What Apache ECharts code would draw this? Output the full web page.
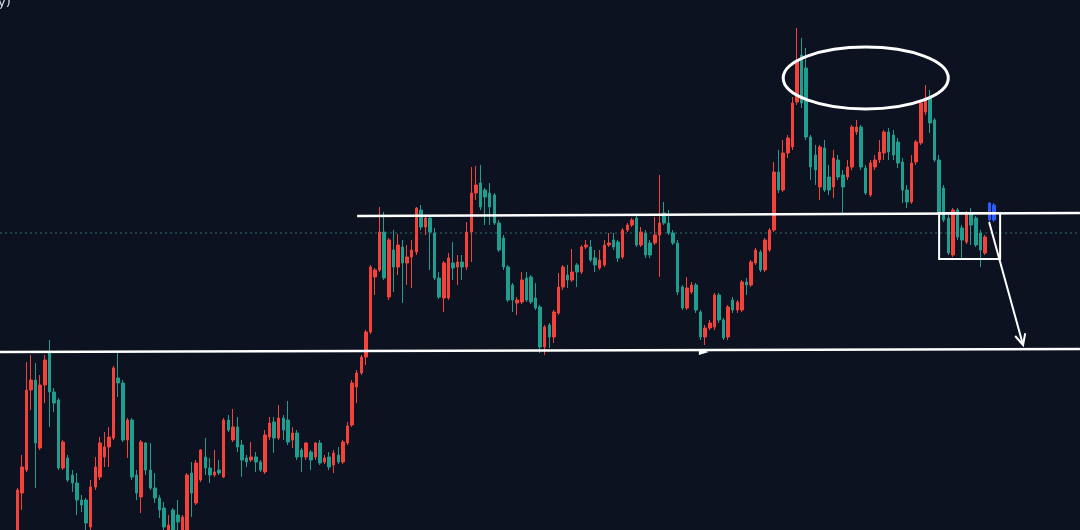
<!DOCTYPE html>
<html><head><meta charset="utf-8">
<script src="https://cdn.jsdelivr.net/npm/echarts@6/dist/echarts.min.js"></script>
<style>html,body{margin:0;padding:0;background:#0c121f;overflow:hidden;}#c{width:1080px;height:530px;}</style>
</head><body><div id="c"></div>
<script>
// OHLC values (arbitrary price units)
const opens = [
0,37,60,140,150,82,145,177,138,130,
62,72,55,47,30,30,3,43,53,73,
83,92,152,147,90,110,55,33,87,60,
42,32,22,0,20,15,0,0,57,27,
50,73,62,55,60,53,110,90,103,85,
72,70,73,68,58,93,108,92,112,110,
90,97,80,73,78,73,87,68,73,65,
75,68,87,105,143,157,173,198,253,260,
298,233,280,263,283,267,273,278,320,303,
312,297,252,232,232,267,263,268,263,298,
337,347,340,337,335,307,292,263,245,227,
228,252,253,232,223,183,205,193,217,243,
255,250,265,258,283,283,272,262,265,285,
290,288,273,300,305,312,285,297,287,287,
295,317,307,297,287,243,222,238,245,218,
193,202,203,235,210,193,230,220,220,248,
245,267,278,260,280,300,358,340,377,383,
428,475,462,393,375,343,382,353,343,370,
355,353,363,398,403,362,335,363,370,377,
398,395,388,368,340,328,368,387,418,432,
410,370,342,312,275,320,302,288,317,312,
297,277,310,310];
const closes = [
40,63,140,150,87,145,170,138,127,62,
88,50,47,30,25,7,43,63,87,83,
93,162,147,90,110,53,37,88,60,42,
32,20,3,5,0,8,13,55,37,67,
80,62,55,58,57,110,100,103,83,70,
68,73,68,60,95,107,92,112,100,88,
97,73,73,87,70,87,67,72,63,77,
68,88,104,147,157,173,198,263,260,298,
252,290,263,285,267,273,280,322,303,312,
298,252,233,267,272,262,268,263,298,337,
345,323,333,323,307,280,263,230,230,230,
250,230,228,222,183,203,193,218,243,263,
250,258,258,283,285,270,265,270,285,287,
283,272,300,305,310,285,298,275,275,295,
307,307,297,287,238,222,242,245,220,193,
202,207,235,210,192,223,220,228,248,245,
268,280,260,290,300,358,340,377,392,427,
470,427,393,363,360,383,340,340,372,353,
343,363,403,403,363,337,367,370,378,398,
378,375,367,340,328,367,388,427,432,407,
370,317,310,277,320,293,290,317,305,285,
280,293,327,325];
const lows = [
-10,20,58,120,42,80,127,103,118,60,
60,48,38,15,18,0,-5,40,50,63,
63,90,133,88,72,50,30,17,55,40,
27,12,0,-5,-5,-5,-5,-5,13,25,
48,55,47,53,55,52,98,88,78,53,
63,68,58,58,56,90,77,90,90,85,
82,70,58,70,60,70,65,66,60,57,
66,66,85,103,127,155,165,196,235,258,
250,230,238,255,227,245,242,275,300,295,
260,250,231,218,230,250,245,250,260,268,
330,320,305,305,305,278,260,228,218,215,
226,228,226,220,177,175,182,187,215,240,
242,248,243,256,281,268,258,260,263,283,
280,268,271,298,303,283,283,272,272,285,
253,305,295,285,235,220,220,236,217,190,
185,200,200,207,190,190,217,217,218,235,
243,265,258,258,278,298,337,338,372,380,
425,422,390,350,345,330,338,335,332,350,
317,350,360,395,360,335,333,360,367,370,
370,370,362,327,322,326,365,385,415,397,
368,315,308,275,273,290,272,286,285,283,
263,275,308,308];
const highs = [
42,75,168,175,167,155,175,190,142,132,
90,75,60,57,35,32,50,73,93,98,
103,164,177,150,112,112,60,90,88,87,
57,35,28,15,22,30,15,57,68,70,
81,92,72,80,70,112,115,121,113,90,
75,88,78,70,100,113,113,125,115,129,
103,100,82,88,80,88,90,75,78,80,
83,90,108,150,160,175,200,265,262,323,
318,292,300,296,290,285,290,323,325,315,
315,302,258,269,277,288,275,275,308,363,
364,365,342,347,337,310,295,265,247,233,
258,258,255,247,225,205,207,220,257,265,
265,281,267,285,290,290,280,280,290,297,
297,290,302,307,312,315,303,300,290,313,
355,328,320,300,290,245,253,248,247,220,
205,210,237,237,212,225,233,230,250,252,
270,282,280,292,302,368,380,390,395,433,
502,492,482,395,385,385,390,365,380,375,
360,370,405,410,405,365,370,375,390,400,
402,400,392,372,345,375,390,430,445,440,
412,375,345,315,322,322,305,319,322,314,
300,295,328,327];
const highlightedBars = [212, 213];
const totalSlots = 232;
const categories = Array.from({length: totalSlots}, (_, i) => 'Bar ' + (i + 1));
// annotation anchors in data units: [bar index, price]
const resistanceLine = [[74.1, 314], [231.7, 317]];
const supportLine = [[-3.8, 178], [231.7, 181]];
const supportMarker = [149.7, 178];
const lastPriceLevel = 297;
const topEllipse = { center: [185, 452], rx: 18, ry: 31 };
const boxZone = [[201, 317], [214.3, 271]];
const arrowPath = [[211.9, 308], [219.3, 185]];
const cornerText = 'y)';

const UP = '#f4423a', DOWN = '#1f9e8f', BLUE = '#2f5cff';
const data = opens.map((o, i) => {
  const v = [o, closes[i], lows[i], highs[i]];
  if (highlightedBars.includes(i)) {
    return { value: v, itemStyle: { color: BLUE, color0: BLUE, borderColor: BLUE, borderColor0: BLUE } };
  }
  return v;
});

const chart = echarts.init(document.getElementById('c'), null, { renderer: 'canvas' });
chart.setOption({
  backgroundColor: '#0c121f',
  animation: false,
  grid: { left: 15, right: 1, top: 0, bottom: 0 },
  xAxis: { type: 'category', data: categories, boundaryGap: true, show: false },
  yAxis: { type: 'value', min: 0, max: 530, show: false, splitLine: { show: false } },
  series: [{
    type: 'candlestick',
    data: data,
    barWidth: 3,
    clip: true,
    itemStyle: { color: UP, color0: DOWN, borderColor: UP, borderColor0: DOWN, borderWidth: 1 }
  }]
});

const xa = chart.convertToPixel({ gridIndex: 0 }, [0, 0]);
const xb = chart.convertToPixel({ gridIndex: 0 }, [totalSlots - 1, 0]);
const px = idx => xa[0] + (xb[0] - xa[0]) * idx / (totalSlots - 1);
const py = p => chart.convertToPixel({ yAxisIndex: 0 }, p);
const W = '#ffffff';

const g = [];
g.push({ type: 'line', z: 1, shape: { x1: 0, y1: py(lastPriceLevel), x2: 1080, y2: py(lastPriceLevel) },
  style: { stroke: '#2f716e', lineWidth: 1, lineDash: [2, 3] } });
[resistanceLine, supportLine].forEach(l => g.push({ type: 'line', z: 10,
  shape: { x1: px(l[0][0]), y1: py(l[0][1]), x2: px(l[1][0]), y2: py(l[1][1]) },
  style: { stroke: W, lineWidth: 2.5 } }));
{
  const mx = px(supportMarker[0]), my = py(supportMarker[1]);
  g.push({ type: 'polygon', z: 10, shape: { points: [[mx - 5, my - 3], [mx + 5, my], [mx - 5, my + 3]] }, style: { fill: W } });
}
{
  const cx = px(topEllipse.center[0]), cy = py(topEllipse.center[1]);
  g.push({ type: 'ellipse', z: 10, shape: { cx: cx, cy: cy,
    rx: px(topEllipse.center[0] + topEllipse.rx) - cx, ry: py(topEllipse.center[1] - topEllipse.ry) - cy },
    style: { fill: 'none', stroke: W, lineWidth: 3 } });
}
{
  const x1 = px(boxZone[0][0]), y1 = py(boxZone[0][1]), x2 = px(boxZone[1][0]), y2 = py(boxZone[1][1]);
  g.push({ type: 'rect', z: 10, shape: { x: x1, y: y1, width: x2 - x1, height: y2 - y1 },
    style: { fill: 'none', stroke: W, lineWidth: 2 } });
}
{
  const x1 = px(arrowPath[0][0]), y1 = py(arrowPath[0][1]), x2 = px(arrowPath[1][0]), y2 = py(arrowPath[1][1]);
  g.push({ type: 'line', z: 10, shape: { x1, y1, x2, y2 }, style: { stroke: W, lineWidth: 2 } });
  const ang = Math.atan2(y2 - y1, x2 - x1), L = 12, a = 0.45;
  g.push({ type: 'polyline', z: 10, shape: { points: [
    [x2 - L * Math.cos(ang - a), y2 - L * Math.sin(ang - a)], [x2, y2],
    [x2 - L * Math.cos(ang + a), y2 - L * Math.sin(ang + a)]] },
    style: { stroke: W, lineWidth: 2, fill: 'none' } });
}
g.push({ type: 'text', z: 10, left: -2, top: -4, style: { text: cornerText, fill: '#d7dbe3', fontSize: 13, fontFamily: 'DejaVu Sans' } });
chart.setOption({ graphic: g });
</script></body></html>
